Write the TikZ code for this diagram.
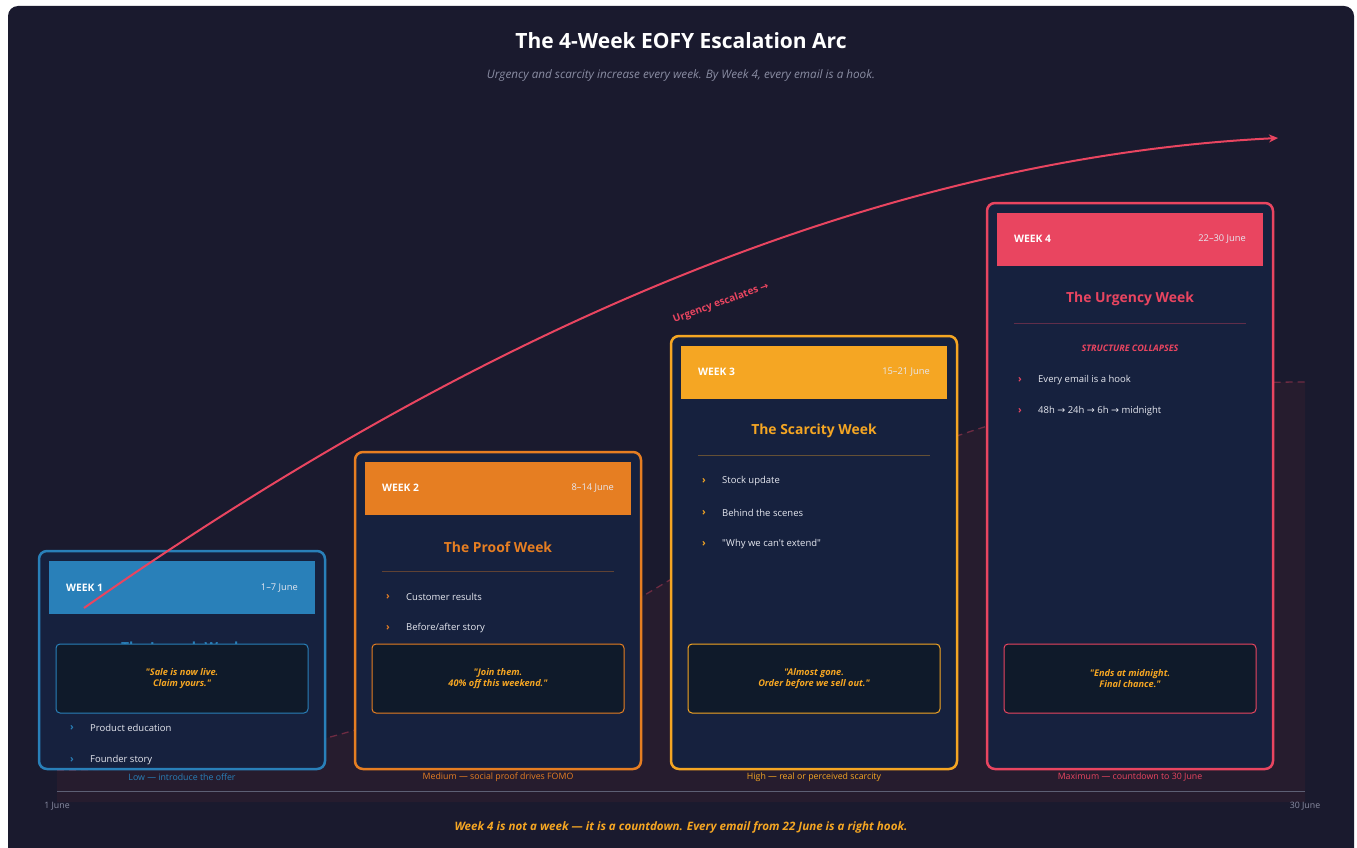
\documentclass[tikz,border=0pt]{standalone}
\usepackage{fontspec}
\setmainfont{Open Sans}[Ligatures=TeXOff]
\newfontfamily\arrowfont{DejaVu Sans}
\usepackage{tikz}
\usetikzlibrary{arrows.meta}

\definecolor{bgnavy}{HTML}{1A1A2E}
\definecolor{cardnavy}{HTML}{16213E}
\definecolor{quotenavy}{HTML}{0F1A2A}
\definecolor{areaplum}{HTML}{261C2E}
\definecolor{wkblue}{HTML}{2980B9}
\definecolor{wkorange}{HTML}{E67E22}
\definecolor{wkamber}{HTML}{F5A623}
\definecolor{wkred}{HTML}{E94560}
\definecolor{softwhite}{HTML}{E6E8F0}
\definecolor{mutedgray}{HTML}{8A8DA3}

\begin{document}
\begin{tikzpicture}[x=1pt, y=-1pt,
    card/.style={draw=#1, line width=2.5pt, rounded corners=8pt, fill=cardnavy,
                 minimum width=286pt, inner sep=0pt},
    head/.style={fill=#1, minimum width=266pt, minimum height=53pt, inner sep=0pt},
    wk/.style={anchor=west, inner sep=0pt, text=white, font=\fontsize{10.3}{12}\selectfont\bfseries},
    dates/.style={anchor=east, inner sep=0pt, text=softwhite, font=\fontsize{9.3}{11}\selectfont},
    ttl/.style={text=#1, font=\fontsize{13.9}{16}\selectfont\bfseries},
    rule/.style={draw=#1!35!cardnavy, line width=0.8pt},
    chev/.style={text=#1, font=\fontsize{10}{12}\selectfont\bfseries},
    item/.style={anchor=west, inner sep=0pt, text=softwhite, font=\fontsize{9.5}{11}\selectfont},
    quote/.style={draw=#1, line width=1pt, rounded corners=4pt, fill=quotenavy,
                  minimum width=252pt, minimum height=69pt, align=center,
                  text=wkamber, font=\fontsize{9.2}{11}\selectfont\bfseries\itshape},
    level/.style={text=#1, font=\fontsize{8.8}{10}\selectfont},
    arr/.style={-{Stealth[length=9pt, width=8pt]}, line width=2pt, draw=wkred},
]
    % page
    \useasboundingbox (0,0) rectangle (1357,848);
    \fill[white] (0,0) rectangle (1357,848);
    \fill[bgnavy, rounded corners=10pt] (8,6) rectangle (1354,858);

    \node[text=white, font=\fontsize{21}{25}\selectfont\bfseries] (title) at (681,41)
        {The 4-Week EOFY Escalation Arc};
    \node[text=mutedgray, font=\fontsize{11.7}{14}\selectfont\itshape] (subtitle) at (681,75)
        {Urgency and scarcity increase every week. By Week 4, every email is a hook.};

    % intensity area behind the cards
    \fill[areaplum] (57,802) -- (57,770) .. controls (650,770) and (700,382) .. (1305,382)
        -- (1305,802) -- cycle;
    \draw[wkred!40!bgnavy, line width=1.3pt, dash pattern=on 7pt off 5pt]
        (57,770) .. controls (650,770) and (700,382) .. (1305,382);
    \draw[mutedgray!60!bgnavy, line width=0.8pt] (57,791) -- (1305,791);
    \node[text=mutedgray, font=\fontsize{8.8}{10}\selectfont] (start) at (57,806) {1 June};
    \node[text=mutedgray, font=\fontsize{8.8}{10}\selectfont] (end) at (1305,806) {30 June};

    % week 1
    \node[card=wkblue, minimum height=218pt] (w1) at (182,660) {};
    \node[head=wkblue] (w1head) at (182,587.5) {};
    \node[wk] at (66,588) {WEEK 1};
    \node[dates] at (298,588) {1–7 June};
    \node[ttl=wkblue] (w1title) at (182,647) {The Launch Week};
    \node[quote=wkblue] (w1quote) at (182,678.5) {"Sale is now live.\\Claim yours."};
    \node[chev=wkblue] at (72,728) {›};
    \node[item] at (90,728) {Product education};
    \node[chev=wkblue] at (72,760) {›};
    \node[item] at (90,760) {Founder story};
    \node[level=wkblue] (w1level) at (182,777) {Low — introduce the offer};

    % week 2
    \node[card=wkorange, minimum height=317pt] (w2) at (498,610.5) {};
    \node[head=wkorange] (w2head) at (498,488.5) {};
    \node[wk] at (382,488) {WEEK 2};
    \node[dates] at (614,488) {8–14 June};
    \node[ttl=wkorange] (w2title) at (498,547) {The Proof Week};
    \draw[rule=wkorange] (382,571) -- (614,571);
    \node[chev=wkorange] at (388,597) {›};
    \node[item] at (406,597) {Customer results};
    \node[chev=wkorange] at (388,628) {›};
    \node[item] at (406,628) {Before/after story};
    \node[quote=wkorange] (w2quote) at (498,678.5) {"Join them.\\40\% off this weekend."};
    \node[level=wkorange] (w2level) at (498,777) {Medium — social proof drives FOMO};

    % week 3
    \node[card=wkamber, minimum height=433pt] (w3) at (814,552.5) {};
    \node[head=wkamber] (w3head) at (814,372.5) {};
    \node[wk] at (698,372) {WEEK 3};
    \node[dates] at (930,372) {15–21 June};
    \node[ttl=wkamber] (w3title) at (814,431) {The Scarcity Week};
    \draw[rule=wkamber] (698,455) -- (930,455);
    \node[chev=wkamber] at (704,481) {›};
    \node[item] at (722,481) {Stock update};
    \node[chev=wkamber] at (704,513) {›};
    \node[item] at (722,513) {Behind the scenes};
    \node[chev=wkamber] at (704,544) {›};
    \node[item] at (722,544) {"Why we can't extend"};
    \node[quote=wkamber] (w3quote) at (814,678.5) {"Almost gone.\\Order before we sell out."};
    \node[level=wkamber] (w3level) at (814,777) {High — real or perceived scarcity};

    % week 4
    \node[card=wkred, minimum height=566pt] (w4) at (1130,486) {};
    \node[head=wkred] (w4head) at (1130,239.5) {};
    \node[wk] at (1014,239) {WEEK 4};
    \node[dates] at (1246,239) {22–30 June};
    \node[ttl=wkred] (w4title) at (1130,299) {The Urgency Week};
    \draw[rule=wkred] (1014,323) -- (1246,323);
    \node[text=wkred, font=\fontsize{9}{11}\selectfont\bfseries\itshape] (w4sub) at (1130,348)
        {STRUCTURE COLLAPSES};
    \node[chev=wkred] at (1020,380) {›};
    \node[item] at (1038,380) {Every email is a hook};
    \node[chev=wkred] at (1020,411) {›};
    \node[item] at (1038,411) {48h {\arrowfont→} 24h {\arrowfont→} 6h {\arrowfont→} midnight};
    \node[quote=wkred] (w4quote) at (1130,678.5) {"Ends at midnight.\\Final chance."};
    \node[level=wkred] (w4level) at (1130,777) {Maximum — countdown to 30 June};

    % escalation arc
    \coordinate (arcfrom) at (84,608);
    \coordinate (arcto) at (1278,138);
    \draw[arr] (arcfrom) .. controls (482,329) and (880,158) .. (arcto);
    \node[text=wkred, rotate=20, font=\fontsize{10}{12}\selectfont\bfseries] (arclabel) at (721,303)
        {Urgency escalates {\arrowfont→}};

    \node[text=wkamber, font=\fontsize{11.6}{14}\selectfont\bfseries\itshape] (footer) at (681,827)
        {Week 4 is not a week — it is a countdown. Every email from 22 June is a right hook.};
\end{tikzpicture}
\end{document}
